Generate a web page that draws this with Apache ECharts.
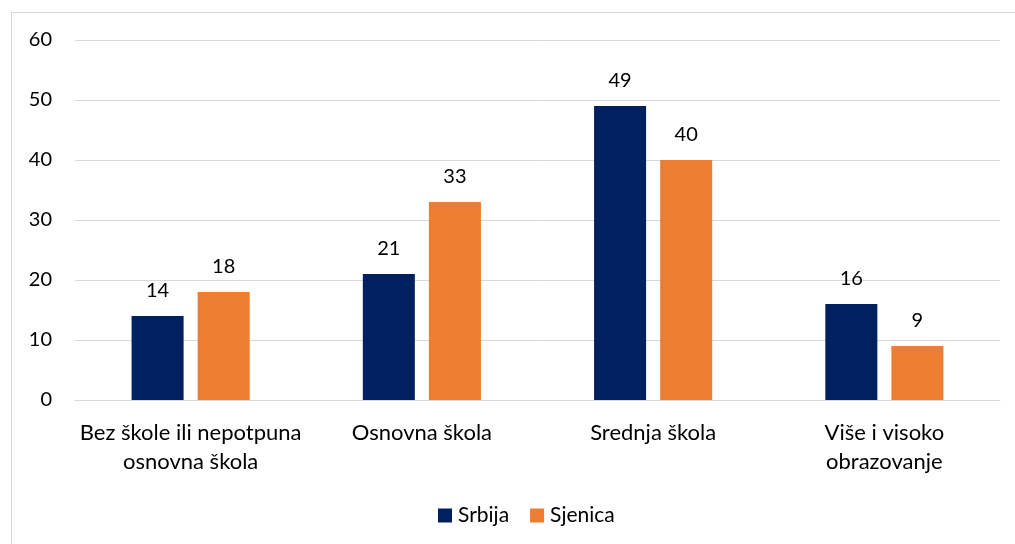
<!DOCTYPE html>
<html><head><meta charset="utf-8">
<script src="https://cdn.jsdelivr.net/npm/echarts@6/dist/echarts.min.js"></script>
<style>html,body{margin:0;padding:0;background:#fff}#c{width:1015px;height:544px;position:relative}
#frame{position:absolute;left:11px;top:12px;width:1100px;height:600px;border:1px solid #d9d9d9;box-sizing:border-box;pointer-events:none}</style>
</head><body><div id="c"></div><div id="frame"></div>
<script>
const categories = ["Bez škole ili nepotpuna\nosnovna škola", "Osnovna škola", "Srednja škola", "Više i visoko\nobrazovanje"];
const srbija = [14, 21, 49, 16];
const sjenica = [18, 33, 40, 9];
const seriesNames = ["Srbija", "Sjenica"];
const font = "Lato, 'Liberation Sans', sans-serif";
const chart = echarts.init(document.getElementById('c'));
const lbl = {show:true, position:'top', distance:15, color:'#000', fontSize:20, fontFamily:font};
chart.setOption({
  animation:false,
  grid:{left:75, right:15, top:40, bottom:144, containLabel:false},
  legend:{bottom:13, left:433, itemWidth:14, itemHeight:14, itemGap:21, icon:'rect',
    textStyle:{fontSize:21, fontFamily:font, color:'#000', padding:[0,0,0,1]}, data:seriesNames},
  xAxis:{type:'category', data:categories,
    axisLine:{lineStyle:{color:'#d9d9d9', width:1}}, axisTick:{show:false},
    axisLabel:{color:'#000', fontSize:22, fontFamily:font, margin:18, lineHeight:29, interval:0}},
  yAxis:{type:'value', min:0, max:60, interval:10,
    axisLine:{show:false}, axisTick:{show:false},
    splitLine:{lineStyle:{color:'#d9d9d9', width:1}},
    axisLabel:{color:'#000', fontSize:20, fontFamily:font, margin:23}},
  series:[
    {name:seriesNames[0], type:'bar', data:srbija, barWidth:'22.5%', barGap:'27%', itemStyle:{color:'#002060'}, label:lbl},
    {name:seriesNames[1], type:'bar', data:sjenica, barWidth:'22.5%', barGap:'27%', itemStyle:{color:'#ED7D31'}, label:lbl}
  ]
});
</script></body></html>
